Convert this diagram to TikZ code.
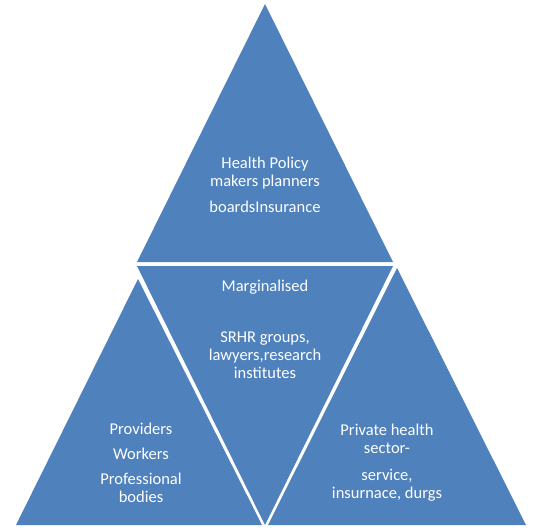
\documentclass[tikz,border=0pt]{standalone}
\usepackage{fontspec}
\setmainfont{Carlito}
\usepackage{xcolor}
\definecolor{C0}{RGB}{79,129,189}

\begin{document}
\begin{tikzpicture}[x=1pt,y=-1pt,
  label text/.style={color=white,align=center,anchor=base,
    font=\fontsize{16.5}{18}\selectfont}]

  \useasboundingbox (0,0) rectangle (537,531);

  % Top triangle.
  \fill[C0] (265,4) -- (393,262) -- (137,262) -- cycle;

  % Inverted middle triangle.
  \fill[C0] (137,266) -- (393,266) -- (265,525) -- cycle;

  % Bottom triangles.
  \fill[C0] (138,279) -- (262,525) -- (16,525) -- cycle; % left
  \fill[C0] (397,268) -- (526,525) -- (268,525) -- cycle; % right

  % Labels (anchored at the baseline of the last line).
  \node[label text] (policy) at (265,212)
    {Health Policy\\ makers planners\\[8pt] boardsInsurance};
  \node[label text] (marginal) at (265,378)
    {Marginalised\\[33pt] SRHR groups,\\ lawyers,research\\ institutes};
  \node[label text] (providers) at (141,502)
    {Providers\\[7pt] Workers\\[7pt] Professional\\ bodies};
  \node[label text] (private) at (387,498)
    {Private health\\ sector-\\[9pt] service,\\ insurnace, durgs};

\end{tikzpicture}
\end{document}
